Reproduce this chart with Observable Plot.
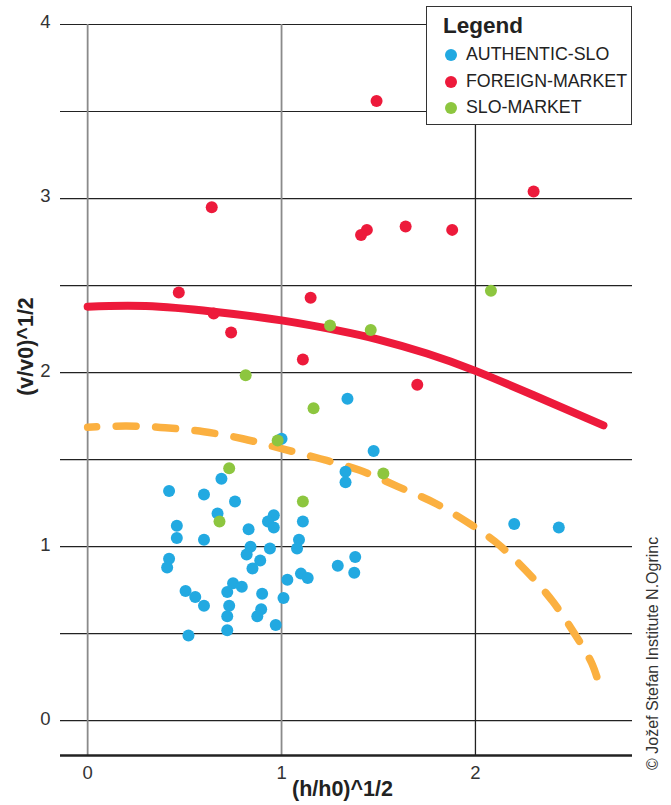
<!DOCTYPE html>
<html>
<head>
<meta charset="utf-8">
<script src="https://cdn.jsdelivr.net/npm/d3@7"></script>
<script src="https://cdn.jsdelivr.net/npm/@observablehq/plot@0.6"></script>
<style>
  html, body { margin: 0; padding: 0; background: #fff; }
  #wrap { position: relative; width: 671px; height: 805px; font-family: "Liberation Sans", Arial, sans-serif; }
  #legend { position: absolute; left: 426px; top: 6px; width: 204px; height: 117px; border: 1.6px solid #333; background: #fff; }
  #legend .title { position: absolute; left: 16px; top: 6px; font-weight: bold; font-size: 22.5px; color: #222; }
  #legend .item { position: absolute; left: 18px; font-size: 17.8px; color: #222; line-height: 20px; white-space: nowrap; }
  #legend .sw { display: inline-block; width: 12px; height: 12px; border-radius: 50%; margin-right: 9px; vertical-align: -1px; }
</style>
</head>
<body>
<div id="wrap"></div>
<script>
// ---- data ----
const seriesNames = ["AUTHENTIC-SLO", "FOREIGN-MARKET", "SLO-MARKET"];
const seriesColors = ["#22a9e1", "#ed1a3b", "#8dc63f"];

const blueH = [1.00,1.33,1.33,0.69,0.42,0.60,0.76,0.67,0.46,0.46,0.60,0.83,0.96,0.93,0.96,1.11,1.09,1.08,0.84,0.82,0.94,0.42,0.41,1.38,1.29,0.89,0.85,1.375,1.10,1.135,1.03,0.505,0.555,0.60,0.75,0.795,0.72,0.90,1.01,0.73,0.895,0.875,0.72,0.72,0.97,0.52,1.34,1.475,2.20,2.43];
const blueV = [1.62,1.43,1.37,1.39,1.32,1.30,1.26,1.19,1.12,1.05,1.04,1.10,1.18,1.145,1.11,1.145,1.04,0.99,1.00,0.955,0.99,0.93,0.88,0.94,0.89,0.92,0.875,0.85,0.845,0.82,0.81,0.745,0.71,0.66,0.79,0.77,0.74,0.73,0.705,0.66,0.64,0.60,0.60,0.52,0.55,0.49,1.85,1.55,1.13,1.11];

const redH = [1.49,0.64,2.30,1.44,1.41,1.64,1.88,1.15,1.11,1.70,0.47,0.65,0.74];
const redV = [3.56,2.95,3.04,2.82,2.79,2.84,2.82,2.43,2.075,1.93,2.46,2.34,2.23];

const greenH = [0.73,0.68,1.11,0.98,1.25,1.46,2.08,0.815,1.165,1.525];
const greenV = [1.45,1.145,1.26,1.61,2.27,2.245,2.47,1.985,1.795,1.42];

const redCurveH = [0, 0.3, 0.65, 1.0, 1.3, 1.5, 1.75, 2.0, 2.3, 2.66];
const redCurveV = [2.379, 2.382, 2.350, 2.300, 2.240, 2.190, 2.110, 2.010, 1.870, 1.697];

const orangeCurveH = [0, 0.2, 0.4, 0.6, 0.8, 1.0, 1.2, 1.4, 1.6, 1.8, 2.0, 2.1, 2.2, 2.3, 2.4, 2.5, 2.6, 2.64];
const orangeCurveV = [1.686, 1.693, 1.683, 1.66, 1.62, 1.563, 1.505, 1.44, 1.345, 1.245, 1.11, 1.03, 0.93, 0.815, 0.683, 0.52, 0.33, 0.2];

const xTicks = [0, 1, 2];
const yTicks = [0, 1, 2, 3, 4];
const yGrid = [0, 0.5, 1, 1.5, 2, 2.5, 3, 3.5, 4];
const xTitle = "(h/h0)^1/2";
const yTitle = "(v/v0)^1/2";
const credit = "© Jožef Stefan Institute N.Ogrinc";

// ---- build tables ----
const pts = (H, V) => H.map((h, i) => ({h, v: V[i]}));
const blue = pts(blueH, blueV);
const red = pts(redH, redV);
const green = pts(greenH, greenV);
const redCurve = pts(redCurveH, redCurveV);
const orangeCurve = pts(orangeCurveH, orangeCurveV);

const font = "Liberation Sans, Arial, sans-serif";

const chart = Plot.plot({
  width: 671,
  height: 805,
  marginLeft: 60,
  marginRight: 39,
  marginTop: 24,
  marginBottom: 50,
  style: {fontFamily: font, background: "#fff", overflow: "visible"},
  x: {domain: [-0.14, 2.81], axis: null},
  y: {domain: [-0.2, 4], axis: null},
  marks: [
    Plot.ruleY(yGrid, {stroke: "#222", strokeWidth: 1.2}),
    Plot.ruleX([0, 1], {y1: -0.2, y2: 4, stroke: "#8a8a8a", strokeWidth: 1.8}),
    Plot.ruleX([2], {y1: -0.2, y2: 4, stroke: "#222", strokeWidth: 1.3}),
    Plot.ruleY([-0.2], {stroke: "#222", strokeWidth: 2.4}),
    Plot.line(redCurve, {x: "h", y: "v", stroke: seriesColors[1], strokeWidth: 8, curve: "natural", strokeLinecap: "round"}),
    Plot.line(orangeCurve, {x: "h", y: "v", stroke: "#fbb040", strokeWidth: 7.5, curve: "catmull-rom", strokeLinecap: "round", strokeDasharray: "20,19.5", strokeDashoffset: 11}),
    Plot.dot(blue, {x: "h", y: "v", r: 6, fill: seriesColors[0]}),
    Plot.dot(red, {x: "h", y: "v", r: 6, fill: seriesColors[1]}),
    Plot.dot(green, {x: "h", y: "v", r: 6, fill: seriesColors[2]}),
    Plot.text(yTicks, {y: d => d, frameAnchor: "left", lineAnchor: "middle", dx: -15, dy: -2, textAnchor: "middle", fontSize: 18.5, fill: "#333"}),
    Plot.text(xTicks, {x: d => d, frameAnchor: "bottom", lineAnchor: "middle", dy: 18, textAnchor: "middle", fontSize: 18.5, fill: "#333"}),
    Plot.text([xTitle], {frameAnchor: "bottom", lineAnchor: "middle", dx: -4, dy: 34, fontSize: 21.5, fontWeight: "bold", fill: "#222"})
  ]
});

const wrap = document.getElementById("wrap");
wrap.appendChild(chart);

// rotated labels (y title and credit), placed relative to the plot frame
const svg = d3.select(chart);
const ys = chart.scale("y");
const xs = chart.scale("x");
const frameLeft = xs.range[0], frameRight = xs.range[1];
const frameTop = ys.range[1], frameBottom = ys.range[0];

svg.append("text")
  .attr("transform", `translate(${frameLeft - 35},${(frameTop + frameBottom) / 2 - 43}) rotate(-90)`)
  .attr("text-anchor", "middle")
  .attr("dy", "0.35em")
  .attr("font-family", font)
  .attr("font-size", 21.5)
  .attr("font-weight", "bold")
  .attr("fill", "#222")
  .text(yTitle);

svg.append("text")
  .attr("transform", `translate(${frameRight + 20},${frameBottom + 15}) rotate(-90)`)
  .attr("text-anchor", "start")
  .attr("dy", "0.35em")
  .attr("font-family", font)
  .attr("font-size", 16)
  .attr("fill", "#333")
  .text(credit);

// legend
const legend = document.createElement("div");
legend.id = "legend";
const t = document.createElement("div");
t.className = "title";
t.textContent = "Legend";
legend.appendChild(t);
seriesNames.forEach((name, i) => {
  const it = document.createElement("div");
  it.className = "item";
  it.style.top = (37 + i * 26.7) + "px";
  const sw = document.createElement("span");
  sw.className = "sw";
  sw.style.background = seriesColors[i];
  it.appendChild(sw);
  it.appendChild(document.createTextNode(name));
  legend.appendChild(it);
});
wrap.appendChild(legend);
</script>
</body>
</html>
